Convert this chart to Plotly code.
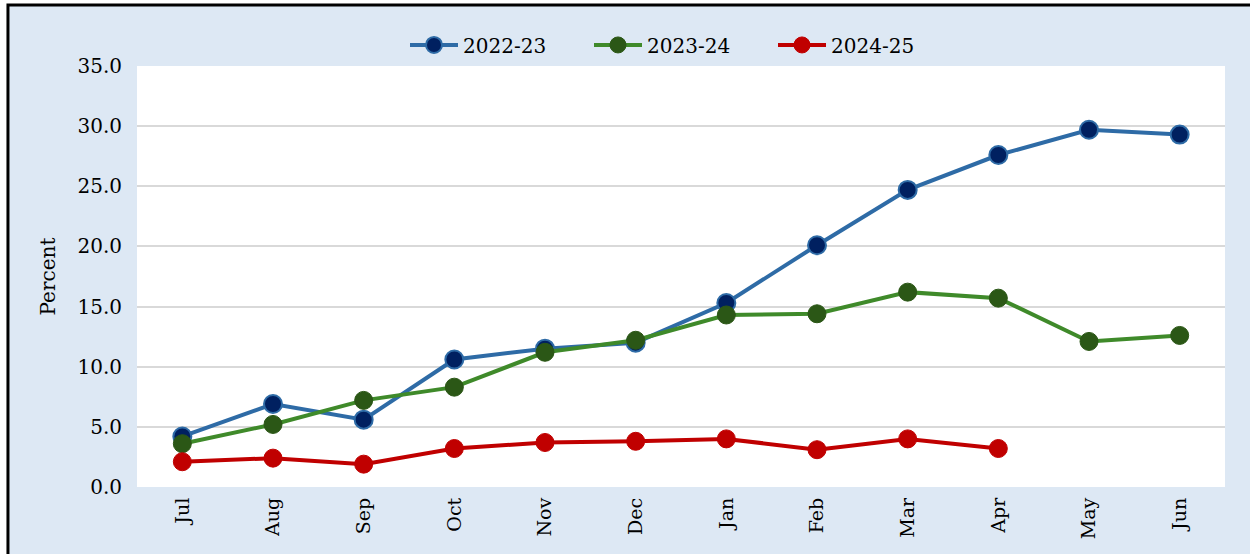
import plotly.graph_objects as go

months = ["Jul", "Aug", "Sep", "Oct", "Nov", "Dec", "Jan", "Feb", "Mar", "Apr", "May", "Jun"]
fy2223 = [4.2, 6.9, 5.6, 10.6, 11.5, 12.0, 15.3, 20.1, 24.7, 27.6, 29.7, 29.3]
fy2324 = [3.6, 5.2, 7.2, 8.3, 11.2, 12.2, 14.3, 14.4, 16.2, 15.7, 12.1, 12.6]
fy2425 = [2.1, 2.4, 1.9, 3.2, 3.7, 3.8, 4.0, 3.1, 4.0, 3.2]
y_ticks = [0, 5, 10, 15, 20, 25, 30, 35]

FONT = "'DejaVu Serif', serif"
BG = "#dde8f4"

fig = go.Figure()
fig.add_trace(go.Scatter(x=months, y=fy2223, name="2022-23", mode="lines+markers",
                         line=dict(color="#2e6ba6", width=4),
                         marker=dict(size=18, color="#002060", line=dict(color="#2e6ba6", width=2))))
fig.add_trace(go.Scatter(x=months, y=fy2324, name="2023-24", mode="lines+markers",
                         line=dict(color="#3f8a2a", width=4),
                         marker=dict(size=18, color="#2b5716", line=dict(color="#2b5716", width=1))))
fig.add_trace(go.Scatter(x=months[:len(fy2425)], y=fy2425, name="2024-25", mode="lines+markers",
                         line=dict(color="#c00000", width=4),
                         marker=dict(size=18, color="#c00000", line=dict(color="#c00000", width=1))))

# outer light-blue panel with black frame, white plot area
fig.add_shape(type="rect", xref="paper", yref="paper", x0=-0.1186, x1=1.04, y0=-0.2, y1=1.1449,
              fillcolor=BG, line=dict(color="black", width=3), layer="below")
fig.add_shape(type="rect", xref="paper", yref="paper", x0=0, x1=1, y0=0, y1=1,
              fillcolor="white", line=dict(width=0), layer="below")

fig.update_layout(
    width=1250, height=554,
    margin=dict(l=137, r=25, t=66, b=67),
    paper_bgcolor="white",
    plot_bgcolor="rgba(0,0,0,0)",
    font=dict(family=FONT, size=19, color="black"),
    showlegend=True,
    legend=dict(orientation="h", x=0.5, y=1.05, xanchor="center", yanchor="middle",
                bgcolor="rgba(0,0,0,0)", font=dict(size=20), itemwidth=48, entrywidth=121),
    xaxis=dict(type="category", range=[-0.5, 11.5], tickangle=-90, showgrid=False, zeroline=False,
               showline=False, ticks="", tickfont=dict(size=19), ticklabelstandoff=6),
    yaxis=dict(range=[0, 35], tickvals=y_ticks, tickformat=".1f", showgrid=True,
               gridcolor="#d9d9d9", gridwidth=2, zeroline=False, showline=False,
               ticks="", ticklen=0, tickfont=dict(size=20), ticklabelstandoff=14,
               title=dict(text="Percent", font=dict(size=20), standoff=16)),
)

fig.write_html("out.html", config={"displayModeBar": False},
               post_script="document.body.style.margin='0';")
